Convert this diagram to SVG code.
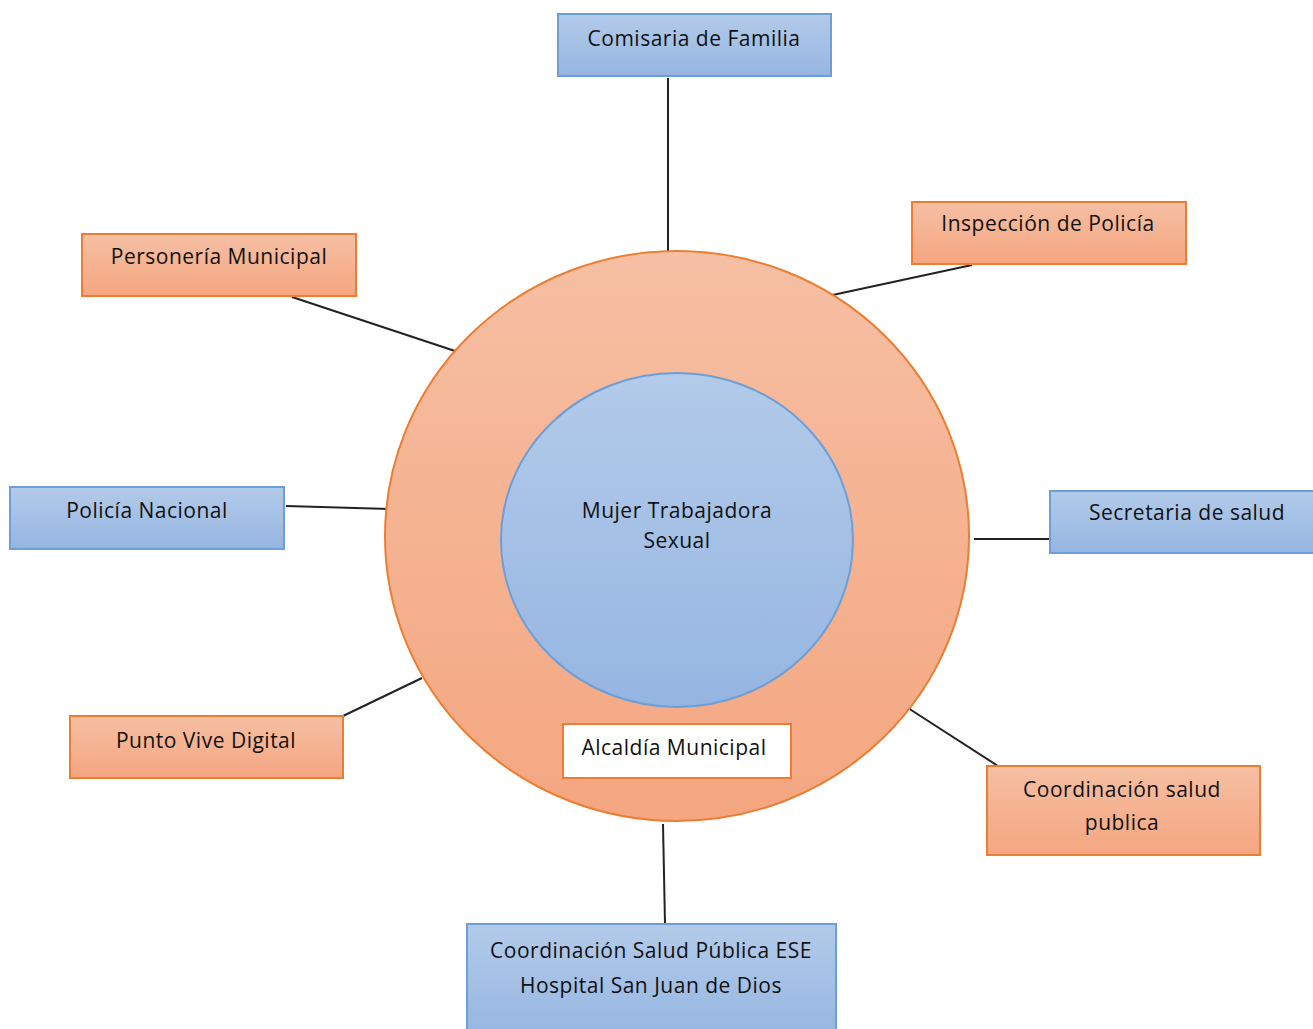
<svg xmlns="http://www.w3.org/2000/svg" width="1313" height="1029" viewBox="0 0 1313 1029">
<style>
text{font-family:"Open Sans","Liberation Sans",sans-serif;font-size:21px;letter-spacing:0.5px;fill:#111;text-anchor:middle;dominant-baseline:central}
.blue{fill:url(#gb);stroke:#6c9fd8;stroke-width:2}
.orng{fill:url(#go);stroke:#ed7d31;stroke-width:2}
.conn line{stroke:#222;stroke-width:2}
</style>
<defs>
<linearGradient id="gb" x1="0" y1="0" x2="0" y2="1"><stop offset="0" stop-color="#b3cbea"/><stop offset="1" stop-color="#95b5e1"/></linearGradient>
<linearGradient id="go" x1="0" y1="0" x2="0" y2="1"><stop offset="0" stop-color="#f6bfa3"/><stop offset="1" stop-color="#f4a680"/></linearGradient>
</defs>
<rect width="1313" height="1029" fill="#fff"/>
<g class="conn" id="connectors">
<line x1="668" y1="78" x2="668" y2="252"/>
<line x1="828" y1="296" x2="972" y2="265"/>
<line x1="292" y1="297" x2="455" y2="351"/>
<line x1="286" y1="506" x2="390" y2="509"/>
<line x1="974" y1="539" x2="1050" y2="539"/>
<line x1="343" y1="716" x2="422" y2="678"/>
<line x1="908" y1="708" x2="998" y2="766"/>
<line x1="663" y1="824" x2="665" y2="924"/>
</g>
<g id="outer"><ellipse class="orng" cx="677" cy="536" rx="292" ry="285"/></g>
<g id="inner"><ellipse class="blue" cx="677" cy="540" rx="176" ry="167"/>
<text x="677" y="510">Mujer Trabajadora</text><text x="677" y="540">Sexual</text></g>
<g id="alcaldia"><rect x="563" y="724" width="228" height="54" fill="#fff" stroke="#ed7d31" stroke-width="2"/><text x="674" y="747">Alcaldía Municipal</text></g>
<g id="comisaria"><rect class="blue" x="558" y="14" width="273" height="62"/><text x="694" y="38">Comisaria de Familia</text></g>
<g id="inspeccion"><rect class="orng" x="912" y="202" width="274" height="62"/><text x="1048" y="223">Inspección de Policía</text></g>
<g id="personeria"><rect class="orng" x="82" y="234" width="274" height="62"/><text x="219" y="256">Personería Municipal</text></g>
<g id="policia"><rect class="blue" x="10" y="487" width="274" height="62"/><text x="147" y="510">Policía Nacional</text></g>
<g id="secretaria"><rect class="blue" x="1050" y="491" width="275" height="62"/><text x="1187" y="512">Secretaria de salud</text></g>
<g id="punto"><rect class="orng" x="70" y="716" width="273" height="62"/><text x="206" y="740">Punto Vive Digital</text></g>
<g id="coordsalud"><rect class="orng" x="987" y="766" width="273" height="89"/><text x="1122" y="789">Coordinación salud</text><text x="1122" y="822">publica</text></g>
<g id="hospital"><rect class="blue" x="467" y="924" width="369" height="115"/><text x="651" y="950">Coordinación Salud Pública ESE</text><text x="651" y="985">Hospital San Juan de Dios</text></g>
</svg>
